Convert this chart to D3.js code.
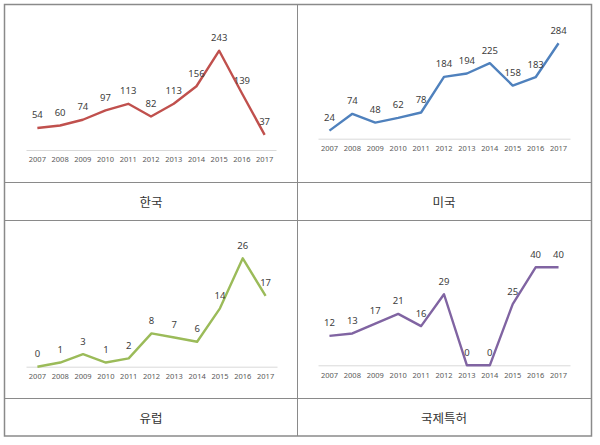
<!DOCTYPE html>
<html>
<head>
<meta charset="utf-8">
<script src="https://cdn.jsdelivr.net/npm/d3@7"></script>
<style>
  html, body { margin: 0; padding: 0; background: #fff; }
  svg { display: block; }
</style>
</head>
<body>
<svg id="chart" width="600" height="445"></svg>
<script>
// ---- Data ----
const years = ["2007","2008","2009","2010","2011","2012","2013","2014","2015","2016","2017"];
const koreaValues  = [54, 60, 74, 97, 113, 82, 113, 156, 243, 139, 37];
const usaValues    = [24, 74, 48, 62, 78, 184, 194, 225, 158, 183, 284];
const europeValues = [0, 1, 3, 1, 2, 8, 7, 6, 14, 26, 17];
const intlValues   = [12, 13, 17, 21, 16, 29, 0, 0, 25, 40, 40];
const captions = ["한국", "미국", "유럽", "국제특허"];

// ---- Layout ----
const svg = d3.select("#chart");
const panels = [
  { values: koreaValues,  color: "#C0504D", caption: captions[0], x0: 26,  x1: 276, base: 150,   top: 27.4,  ymax: 300, capX: 151, capY: 201 },
  { values: usaValues,    color: "#4F81BD", caption: captions[1], x0: 318, x1: 570, base: 138.7, top: 37.9,  ymax: 300, capX: 444, capY: 201 },
  { values: europeValues, color: "#9BBB59", caption: captions[2], x0: 26,  x1: 277, base: 366.7, top: 241.7, ymax: 30,  capX: 151, capY: 417 },
  { values: intlValues,   color: "#8064A2", caption: captions[3], x0: 318, x1: 570, base: 365.3, top: 242.8, ymax: 50,  capX: 444, capY: 417 }
];

// table grid
const grid = svg.append("g").attr("stroke", "#8a8a8a").attr("fill", "none");
grid.append("rect").attr("x", 4.5).attr("y", 4.5).attr("width", 587).attr("height", 431.5).attr("stroke-width", 1.5);
grid.append("line").attr("x1", 297.5).attr("x2", 297.5).attr("y1", 4.5).attr("y2", 436).attr("stroke-width", 1);
[182.5, 220.5, 398.5].forEach(y => {
  grid.append("line").attr("x1", 4.5).attr("x2", 591.5).attr("y1", y).attr("y2", y).attr("stroke-width", 1);
});

panels.forEach(p => {
  const x = d3.scaleBand().domain(years).range([p.x0, p.x1]).padding(0);
  const y = d3.scaleLinear().domain([0, p.ymax]).range([p.base, p.top]);
  const cx = d => x(d) + x.bandwidth() / 2;
  const g = svg.append("g");

  // x axis
  const ax = g.append("g")
    .attr("transform", `translate(0,${p.base})`)
    .call(d3.axisBottom(x).tickSize(0).tickSizeOuter(0).tickPadding(7));
  ax.select(".domain").attr("stroke", "#d9d9d9").attr("stroke-width", 1);
  ax.selectAll("text")
    .attr("fill", "#595959")
    .style("font-family", "'Noto Sans', 'Open Sans', sans-serif")
    .style("font-size", "7.5px");

  // line
  const data = years.map((yr, i) => ({ yr, v: p.values[i] }));
  g.append("path")
    .datum(data)
    .attr("fill", "none")
    .attr("stroke", p.color)
    .attr("stroke-width", 2.4)
    .attr("stroke-linejoin", "round")
    .attr("d", d3.line().x(d => cx(d.yr)).y(d => y(d.v)));

  // data labels
  g.selectAll("text.lbl")
    .data(data)
    .join("text")
    .attr("class", "lbl")
    .attr("x", d => cx(d.yr))
    .attr("y", d => y(d.v) - 9.5)
    .attr("text-anchor", "middle")
    .attr("fill", "#404040")
    .style("font-family", "'Noto Sans', 'Open Sans', sans-serif")
    .style("font-size", "9.5px")
    .text(d => d.v);

  // caption
  svg.append("text")
    .attr("x", p.capX)
    .attr("y", p.capY)
    .attr("text-anchor", "middle")
    .attr("dominant-baseline", "central")
    .attr("fill", "#333")
    .style("font-family", "'Noto Sans CJK KR', sans-serif")
    .style("font-size", "12.5px")
    .text(p.caption);
});
</script>
</body>
</html>
